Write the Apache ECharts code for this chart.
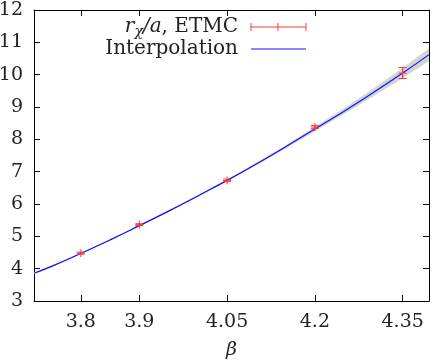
<!DOCTYPE html>
<html>
<head>
<meta charset="utf-8">
<script src="https://cdn.jsdelivr.net/npm/echarts@6/dist/echarts.min.js"></script>
<style>
  html, body { margin: 0; padding: 0; background: #fff; }
  #chart { width: 433px; height: 362px; }
</style>
</head>
<body>
<div id="chart"></div>
<script>
// data
var betaPts = [3.8, 3.9, 4.05, 4.2, 4.35];
var rchiPts = [4.48, 5.36, 6.73, 8.38, 10.05];
var rchiErr = [0.03, 0.03, 0.04, 0.05, 0.17];

var curveBeta = [3.72, 3.75, 3.8, 3.85, 3.9, 3.95, 4.0, 4.05, 4.1, 4.15, 4.2, 4.25, 4.3, 4.35, 4.395];
var curveVal  = [3.86, 4.07, 4.47, 4.89, 5.33, 5.78, 6.25, 6.73, 7.24, 7.77, 8.32, 8.87, 9.45, 10.05, 10.62];
var bandHalf  = [0.03, 0.03, 0.02, 0.02, 0.02, 0.03, 0.03, 0.03, 0.04, 0.05, 0.07, 0.09, 0.12, 0.16, 0.2];

var xTicks = [3.8, 3.9, 4.05, 4.2, 4.35];

var FONT = 'DejaVu Serif';
var RED = 'rgb(240,60,60)';
var BLUE = '#1010ff';

var myChart = echarts.init(document.getElementById('chart'));

var band = curveBeta.map(function (b, i) { return [b, curveVal[i] - bandHalf[i], curveVal[i] + bandHalf[i]]; });
var curve = curveBeta.map(function (b, i) { return [b, curveVal[i]]; });
var points = betaPts.map(function (b, i) { return [b, rchiPts[i], rchiErr[i]]; });

// whole band drawn as one polygon, from the first item
function bandPoly(params, api) {
  if (params.dataIndex !== 0) return null;
  var top = [], bot = [];
  band.forEach(function (d) {
    top.push(api.coord([d[0], d[2]]));
    bot.unshift(api.coord([d[0], d[1]]));
  });
  return {
    type: 'polygon',
    shape: { points: top.concat(bot) },
    style: { fill: '#d4d4d4' }
  };
}

function errorBar(params, api) {
  var c = api.coord([api.value(0), api.value(1)]);
  var lo = api.coord([api.value(0), api.value(1) - api.value(2)]);
  var hi = api.coord([api.value(0), api.value(1) + api.value(2)]);
  var st = { stroke: RED, lineWidth: 1 };
  return {
    type: 'group',
    children: [
      { type: 'line', shape: { x1: c[0], y1: lo[1], x2: c[0], y2: hi[1] }, style: st },
      { type: 'line', shape: { x1: c[0] - 4, y1: lo[1], x2: c[0] + 4, y2: lo[1] }, style: st },
      { type: 'line', shape: { x1: c[0] - 4, y1: hi[1], x2: c[0] + 4, y2: hi[1] }, style: st },
      { type: 'line', shape: { x1: c[0] - 4, y1: c[1], x2: c[0] + 4, y2: c[1] }, style: st },
      { type: 'line', shape: { x1: c[0], y1: c[1] - 4, x2: c[0], y2: c[1] + 4 }, style: st }
    ]
  };
}

var axisLineStyle = { show: true, lineStyle: { color: '#000', width: 1 } };
var tickStyle = { show: true, inside: true, length: 6, lineStyle: { color: '#000' } };

var option = {
  animation: false,
  grid: { left: 34, right: 4, top: 10, bottom: 61, outerBoundsMode: 'none', containLabel: false },
  xAxis: [{
    type: 'value',
    min: 3.72,
    max: 4.395,
    name: 'β',
    nameLocation: 'middle',
    nameGap: 40,
    nameTextStyle: { fontFamily: FONT, fontSize: 19, fontStyle: 'italic', color: '#222' },
    axisLine: axisLineStyle,
    axisTick: Object.assign({ customValues: xTicks }, tickStyle),
    axisLabel: { customValues: xTicks, fontFamily: FONT, fontSize: 19, color: '#222', margin: 12 },
    splitLine: { show: false }
  }, {
    type: 'value',
    position: 'top',
    min: 3.72,
    max: 4.395,
    axisLine: axisLineStyle,
    axisTick: Object.assign({ customValues: xTicks }, tickStyle),
    axisLabel: { show: false },
    splitLine: { show: false }
  }],
  yAxis: [{
    type: 'value',
    min: 3,
    max: 12,
    interval: 1,
    axisLine: axisLineStyle,
    axisTick: tickStyle,
    axisLabel: { fontFamily: FONT, fontSize: 19, color: '#222', margin: 11 },
    splitLine: { show: false }
  }, {
    type: 'value',
    position: 'right',
    min: 3,
    max: 12,
    interval: 1,
    axisLine: axisLineStyle,
    axisTick: tickStyle,
    axisLabel: { show: false },
    splitLine: { show: false }
  }],
  series: [
    {
      name: 'band',
      type: 'custom',
      data: band,
      renderItem: bandPoly,
      silent: true,
      z: 1
    },
    {
      name: 'Interpolation',
      type: 'line',
      data: curve,
      smooth: true,
      showSymbol: false,
      lineStyle: { color: BLUE, width: 1.2 },
      z: 3
    },
    {
      name: 'ETMC',
      type: 'custom',
      data: points,
      renderItem: errorBar,
      z: 4
    }
  ],
  graphic: [
    {
      type: 'text',
      x: 238, y: 27,
      style: {
        text: '{i|r}{s|χ}{i|/a}, ETMC',
        align: 'right',
        verticalAlign: 'middle',
        fontFamily: FONT,
        fontSize: 20,
        fill: '#222',
        rich: {
          i: { fontFamily: FONT, fontSize: 20, fontStyle: 'italic', fill: '#222' },
          s: { fontFamily: FONT, fontSize: 14, fontStyle: 'italic', fill: '#222', padding: [10, 0, 0, 0] }
        }
      }
    },
    {
      type: 'text',
      x: 238, y: 49,
      style: {
        text: 'Interpolation',
        align: 'right',
        verticalAlign: 'middle',
        fontFamily: FONT,
        fontSize: 20,
        fill: '#222'
      }
    },
    { type: 'line', shape: { x1: 251, y1: 27, x2: 306, y2: 27 }, style: { stroke: RED, lineWidth: 1 } },
    { type: 'line', shape: { x1: 251, y1: 23, x2: 251, y2: 31 }, style: { stroke: RED, lineWidth: 1 } },
    { type: 'line', shape: { x1: 306, y1: 23, x2: 306, y2: 31 }, style: { stroke: RED, lineWidth: 1 } },
    { type: 'line', shape: { x1: 278, y1: 23, x2: 278, y2: 31 }, style: { stroke: RED, lineWidth: 1 } },
    { type: 'line', shape: { x1: 251, y1: 49, x2: 306, y2: 49 }, style: { stroke: BLUE, lineWidth: 1.2 } }
  ]
};

myChart.setOption(option);
</script>
</body>
</html>
